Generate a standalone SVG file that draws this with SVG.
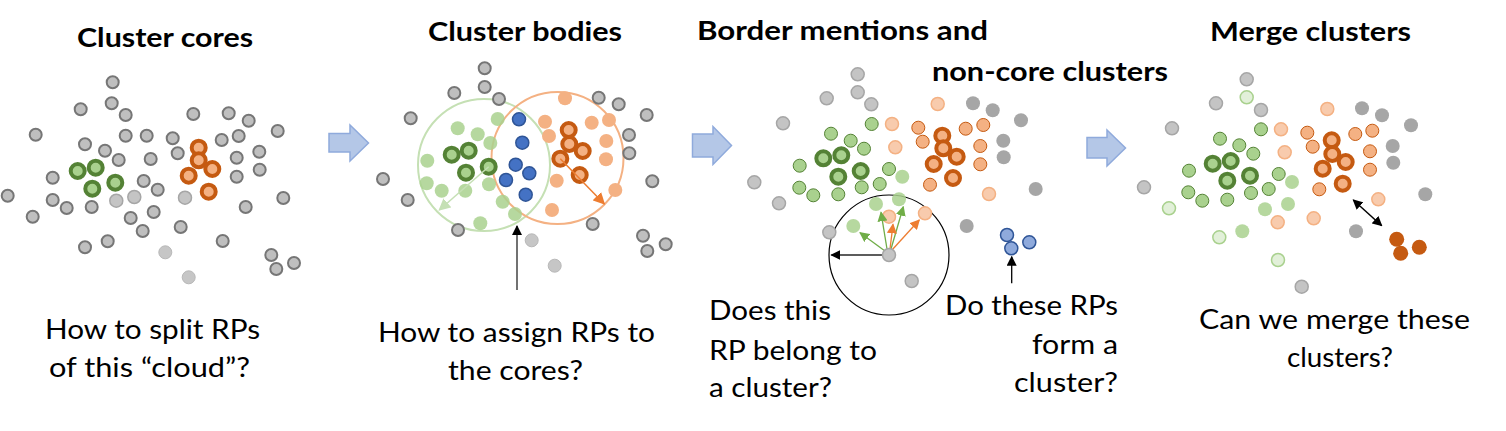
<svg xmlns="http://www.w3.org/2000/svg" width="1506" height="431" viewBox="0 0 1506 431">
<style>
text{font-family:Lato,"Liberation Sans",sans-serif;fill:#000}
.t{font-size:27px;font-weight:bold}
.q{font-size:27px}
.gy{fill:#bfbfbf;stroke:#767676;stroke-width:2}
.gyl{fill:#c4c4c4;stroke:#a6a6a6;stroke-width:1.5}
.gf{fill:#c6c6c6;stroke:#b8b8b8;stroke-width:1}
.gd{fill:#a6a6a6}
.cg{fill:#a9d18e;stroke:#548235;stroke-width:4}
.co{fill:#f4b183;stroke:#c55a11;stroke-width:4}
.lg{fill:#a9d18e;opacity:.85}
.lo{fill:#f4b183}
.bl{fill:#4472c4;stroke:#2f5597;stroke-width:1.5}
.og{fill:#a9d18e;stroke:#548235;stroke-width:1}
.oo{fill:#f4b183;stroke:#c55a11;stroke-width:1}
.po{fill:#f8cbad;stroke:#f4b183;stroke-width:1.5}
.pb{fill:#8faadc;stroke:#2f5597;stroke-width:1.5}
.pg{fill:#e2f0d9;stroke:#a9d18e;stroke-width:1.5}
.do{fill:#c55a11}
.blk{fill:#b4c7e7;stroke:#8faadc;stroke-width:1.5}
</style>
<defs>
<marker id="mk" viewBox="0 0 10 10" refX="9" refY="5" markerWidth="10" markerHeight="10" markerUnits="userSpaceOnUse" orient="auto-start-reverse"><path d="M0,0L10,5L0,10z" fill="#000"/></marker>
<marker id="mg" viewBox="0 0 10 10" refX="9" refY="5" markerWidth="10" markerHeight="10" markerUnits="userSpaceOnUse" orient="auto"><path d="M0,0L10,5L0,10z" fill="#70ad47"/></marker>
<marker id="mo" viewBox="0 0 10 10" refX="9" refY="5" markerWidth="10" markerHeight="10" markerUnits="userSpaceOnUse" orient="auto"><path d="M0,0L10,5L0,10z" fill="#ed7d31"/></marker>
<marker id="mlg" viewBox="0 0 10 10" refX="9" refY="5" markerWidth="12" markerHeight="12" markerUnits="userSpaceOnUse" orient="auto"><path d="M0,0L10,5L0,10z" fill="#c5e0b4"/></marker>
<marker id="mlo" viewBox="0 0 10 10" refX="9" refY="5" markerWidth="12" markerHeight="12" markerUnits="userSpaceOnUse" orient="auto"><path d="M0,0L10,5L0,10z" fill="#ed7d31"/></marker>
</defs>

<g id="panel1">
<text class="t" x="77" y="47" textLength="176" lengthAdjust="spacingAndGlyphs">Cluster cores</text>
<g>
<circle class="gy" r="6" cx="112.7" cy="82.3"/><circle class="gy" r="6" cx="111.7" cy="103.3"/><circle class="gy" r="6" cx="80.7" cy="109.3"/><circle class="gy" r="6" cx="125.7" cy="115"/><circle class="gy" r="6" cx="35.7" cy="134.7"/><circle class="gy" r="6" cx="125.7" cy="135.7"/><circle class="gy" r="6" cx="146.7" cy="135.7"/><circle class="gy" r="6" cx="172.7" cy="138.3"/><circle class="gy" r="6" cx="193.3" cy="114"/><circle class="gy" r="6" cx="228.7" cy="113.3"/><circle class="gy" r="6" cx="248.7" cy="120.7"/><circle class="gy" r="6" cx="277.7" cy="131"/><circle class="gy" r="6" cx="221.7" cy="140"/><circle class="gy" r="6" cx="238.7" cy="136"/><circle class="gy" r="6" cx="85" cy="144.3"/><circle class="gy" r="6" cx="105" cy="150.7"/><circle class="gy" r="6" cx="118.7" cy="160"/><circle class="gy" r="6" cx="150.7" cy="159"/><circle class="gy" r="6" cx="177.7" cy="153.3"/><circle class="gy" r="6" cx="259.3" cy="151.7"/><circle class="gy" r="6" cx="236.7" cy="157.7"/><circle class="gy" r="6" cx="259.7" cy="169.7"/><circle class="gy" r="6" cx="236.7" cy="176.7"/><circle class="gy" r="6" cx="52.7" cy="177.7"/><circle class="gy" r="6" cx="143.7" cy="181"/><circle class="gy" r="6" cx="157.7" cy="189.7"/><circle class="gyl" r="6.5" cx="134.3" cy="197"/><circle class="gyl" r="6.5" cx="116.3" cy="200.7"/><circle class="gy" r="6" cx="91.7" cy="207"/><circle class="gy" r="6" cx="66.7" cy="208"/><circle class="gy" r="6" cx="52.7" cy="200"/><circle class="gy" r="6" cx="7.7" cy="195.7"/><circle class="gy" r="6" cx="32.7" cy="216.7"/><circle class="gyl" r="6.5" cx="185" cy="197.7"/><circle class="gy" r="6" cx="245.7" cy="207"/><circle class="gy" r="6" cx="283.3" cy="198"/><circle class="gy" r="6" cx="130.7" cy="218"/><circle class="gy" r="6" cx="153.7" cy="212"/><circle class="gy" r="6" cx="142.7" cy="231"/><circle class="gy" r="6" cx="180.7" cy="227"/><circle class="gy" r="6" cx="107.7" cy="241.3"/><circle class="gy" r="6" cx="85" cy="247.3"/><circle class="gy" r="6" cx="222.7" cy="241"/><circle class="gy" r="6" cx="271.3" cy="255"/><circle class="gy" r="6" cx="294" cy="263"/><circle class="gy" r="6" cx="276.3" cy="269"/>
<circle class="gf" r="6.5" cx="165.3" cy="252.3"/><circle class="gf" r="6.5" cx="188.7" cy="277.3"/>
<circle class="cg" r="7" cx="77.7" cy="171"/><circle class="cg" r="7" cx="95.7" cy="167.7"/><circle class="cg" r="7" cx="92.3" cy="188.7"/><circle class="cg" r="7" cx="115.3" cy="182.7"/>
<circle class="co" r="7" cx="198.7" cy="147.7"/><circle class="co" r="7" cx="198.7" cy="160.3"/><circle class="co" r="7" cx="212.3" cy="169"/><circle class="co" r="7" cx="188.7" cy="175.7"/><circle class="co" r="7" cx="208.7" cy="191.7"/>
</g>
<text class="q" x="45" y="339" textLength="215" lengthAdjust="spacingAndGlyphs">How to split RPs</text>
<text class="q" x="49" y="377" textLength="201" lengthAdjust="spacingAndGlyphs">of this “cloud”?</text>
</g>

<g id="arrow1"><polygon class="blk" points="329,133.5 350,133.5 350,125 368.5,143 350,161 350,152 329,152"/></g>

<g id="panel2">
<text class="t" x="428" y="41" textLength="194" lengthAdjust="spacingAndGlyphs">Cluster bodies</text>
<circle cx="484" cy="165" r="66" fill="none" stroke="#c5e0b4" stroke-width="2"/>
<circle cx="557.5" cy="158" r="66" fill="none" stroke="#f4b183" stroke-width="2"/>
<g>
<circle class="gy" r="6" cx="484.7" cy="68.3"/><circle class="gy" r="6" cx="484.7" cy="87"/><circle class="gy" r="6" cx="454.3" cy="93"/><circle class="gy" r="6" cx="499" cy="99"/><circle class="gy" r="6" cx="598.7" cy="97.7"/><circle class="gy" r="6" cx="618.7" cy="104.3"/><circle class="gy" r="6" cx="646.7" cy="115"/><circle class="gy" r="6" cx="410.7" cy="118.3"/><circle class="gy" r="6" cx="629" cy="135"/><circle class="gy" r="6" cx="629.3" cy="153.3"/><circle class="gy" r="6" cx="383" cy="179"/><circle class="gy" r="6" cx="652.3" cy="181.3"/><circle class="gy" r="6" cx="407.7" cy="200"/><circle class="gy" r="6" cx="458" cy="230"/><circle class="gy" r="6" cx="592.7" cy="224"/><circle class="gy" r="6" cx="643" cy="235.7"/><circle class="gy" r="6" cx="665.7" cy="244.3"/><circle class="gy" r="6" cx="647.3" cy="251"/>
<circle class="gf" r="6.5" cx="531.7" cy="240.3"/><circle class="gf" r="6.5" cx="554.7" cy="265.7"/>
<circle class="lg" r="7" cx="457.7" cy="128.3"/><circle class="lg" r="7" cx="477.7" cy="134.3"/><circle class="lg" r="7" cx="497.7" cy="119"/><circle class="lg" r="7" cx="490.3" cy="143"/><circle class="lg" r="7" cx="427.3" cy="160.7"/><circle class="lg" r="7" cx="426.7" cy="183.3"/><circle class="lg" r="7" cx="441.7" cy="190.7"/><circle class="lg" r="7" cx="465.3" cy="190.7"/><circle class="lg" r="7" cx="489" cy="184.3"/><circle class="lg" r="7" cx="502.7" cy="201.7"/><circle class="lg" r="7" cx="515" cy="214"/><circle class="lg" r="7" cx="480.3" cy="223.3"/>
<circle class="cg" r="7" cx="451.7" cy="154.7"/><circle class="cg" r="7" cx="468.7" cy="150.7"/><circle class="cg" r="7" cx="466" cy="172.7"/><circle class="cg" r="7" cx="488.7" cy="166.7"/>
<circle class="bl" r="6.5" cx="519" cy="119.3"/><circle class="bl" r="6.5" cx="522.3" cy="142.7"/><circle class="bl" r="6.5" cx="515.7" cy="164.7"/><circle class="bl" r="6.5" cx="529.3" cy="173.3"/><circle class="bl" r="6.5" cx="506" cy="180"/><circle class="bl" r="6.5" cx="525.7" cy="194.7"/>
<circle class="lo" r="7" cx="565" cy="98.3"/><circle class="lo" r="7" cx="545" cy="121.7"/><circle class="lo" r="7" cx="549" cy="136"/><circle class="lo" r="7" cx="591.7" cy="122.7"/><circle class="lo" r="7" cx="609" cy="120"/><circle class="lo" r="7" cx="606.3" cy="141"/><circle class="lo" r="7" cx="606" cy="159.3"/><circle class="lo" r="7" cx="556.7" cy="180.7"/><circle class="lo" r="7" cx="615.3" cy="190"/><circle class="lo" r="7" cx="552" cy="210"/>
<circle class="co" r="7" cx="568.7" cy="130"/><circle class="co" r="7" cx="569.3" cy="144"/><circle class="co" r="7" cx="582.7" cy="151"/><circle class="co" r="7" cx="560.3" cy="158.7"/><circle class="co" r="7" cx="579.7" cy="175"/>
</g>
<text class="q" x="378" y="342" textLength="277" lengthAdjust="spacingAndGlyphs">How to assign RPs to</text>
<text class="q" x="448" y="380" textLength="135" lengthAdjust="spacingAndGlyphs">the cores?</text>
</g>

<g id="arrow2"><polygon class="blk" points="692.5,134 713,134 713,126.5 731.5,145.5 713,164.5 713,157 692.5,157"/></g>

<g id="panel3">
<text class="t" x="697" y="40" textLength="291" lengthAdjust="spacingAndGlyphs">Border mentions and</text>
<text class="t" x="932" y="81" textLength="236" lengthAdjust="spacingAndGlyphs">non-core clusters</text>
<circle cx="889" cy="255" r="60" fill="none" stroke="#000" stroke-width="1.2"/>
<g>
<circle class="gyl" r="6.5" cx="857.7" cy="74.3"/><circle class="gyl" r="6.5" cx="857.7" cy="92.3"/><circle class="gyl" r="6.5" cx="826.7" cy="98.3"/><circle class="gyl" r="6.5" cx="871.3" cy="104.3"/><circle class="gyl" r="6.5" cx="783" cy="123.3"/><circle class="gyl" r="6.5" cx="754.3" cy="182.3"/><circle class="gyl" r="6.5" cx="779" cy="203.3"/><circle class="gyl" r="6.5" cx="829.3" cy="232.3"/><circle class="gyl" r="6.5" cx="911.7" cy="281"/>
<circle class="gd" r="7" cx="973" cy="103.3"/><circle class="gd" r="7" cx="992.7" cy="110.3"/><circle class="gd" r="7" cx="1021" cy="120.3"/><circle class="gd" r="7" cx="1003.3" cy="140.7"/><circle class="gd" r="7" cx="1003.7" cy="157.3"/><circle class="gd" r="7" cx="1035.7" cy="189"/><circle class="gd" r="7" cx="966.7" cy="226"/>
<circle class="og" r="6.5" cx="831" cy="133.7"/><circle class="og" r="6.5" cx="850.7" cy="140.7"/><circle class="og" r="6.5" cx="871.7" cy="124"/><circle class="og" r="6.5" cx="864" cy="148.7"/><circle class="og" r="6.5" cx="799.7" cy="165.7"/><circle class="og" r="6.5" cx="799.3" cy="187.7"/><circle class="og" r="6.5" cx="813.3" cy="195.3"/><circle class="og" r="6.5" cx="838.3" cy="194.3"/><circle class="og" r="6.5" cx="861.7" cy="187.3"/><circle class="og" r="6.5" cx="879.7" cy="184"/><circle class="og" r="6.5" cx="889" cy="169"/>
<circle class="cg" r="7" cx="823.3" cy="158.3"/><circle class="cg" r="7" cx="841.3" cy="155.3"/><circle class="cg" r="7" cx="838.3" cy="176.7"/><circle class="cg" r="7" cx="860.7" cy="171"/>
<circle class="lg" r="7" cx="902.3" cy="176.7"/><circle class="lg" r="7" cx="876" cy="204"/><circle class="lg" r="7" cx="899" cy="199.3"/><circle class="lg" r="7" cx="853.3" cy="226"/>
<circle class="po" r="6.5" cx="937.7" cy="104"/><circle class="po" r="6.5" cx="892" cy="124"/><circle class="po" r="6.5" cx="895.3" cy="147.3"/><circle class="po" r="6.5" cx="989" cy="194"/><circle class="po" r="6.5" cx="889" cy="216.7"/><circle class="po" r="6.5" cx="925" cy="213.3"/>
<circle class="oo" r="6.5" cx="918.3" cy="127.7"/><circle class="oo" r="6.5" cx="922.7" cy="141.7"/><circle class="oo" r="6.5" cx="965.7" cy="128.7"/><circle class="oo" r="6.5" cx="983.3" cy="125"/><circle class="oo" r="6.5" cx="980.3" cy="146"/><circle class="oo" r="6.5" cx="980.3" cy="164.3"/><circle class="oo" r="6.5" cx="930" cy="184.7"/>
<circle class="co" r="7" cx="942.3" cy="135.7"/><circle class="co" r="7" cx="943.3" cy="148.3"/><circle class="co" r="7" cx="956.7" cy="156.7"/><circle class="co" r="7" cx="933.7" cy="164"/><circle class="co" r="7" cx="953" cy="178"/>
<circle class="pb" r="6.5" cx="1007" cy="235"/><circle class="pb" r="6.5" cx="1011.3" cy="248.3"/><circle class="pb" r="6.5" cx="1029.3" cy="242.3"/>
</g>
<text class="q" x="709" y="320" textLength="122" lengthAdjust="spacingAndGlyphs">Does this</text>
<text class="q" x="709" y="360" textLength="168" lengthAdjust="spacingAndGlyphs">RP belong to</text>
<text class="q" x="709" y="397" textLength="123" lengthAdjust="spacingAndGlyphs">a cluster?</text>
<text class="q" x="945" y="315" textLength="173" lengthAdjust="spacingAndGlyphs">Do these RPs</text>
<text class="q" x="1032" y="354" textLength="86" lengthAdjust="spacingAndGlyphs">form a</text>
<text class="q" x="1014" y="392" textLength="104" lengthAdjust="spacingAndGlyphs">cluster?</text>
</g>

<g id="arrow3"><polygon class="blk" points="1087,137.5 1107,137.5 1107,130 1125.5,148 1107,166 1107,158 1087,158"/></g>

<g id="panel4">
<text class="t" x="1210" y="41" textLength="201" lengthAdjust="spacingAndGlyphs">Merge clusters</text>
<g>
<circle class="gyl" r="6.5" cx="1246.7" cy="79.3"/><circle class="gyl" r="6.5" cx="1216" cy="103.3"/><circle class="gyl" r="6.5" cx="1261" cy="110"/><circle class="gyl" r="6.5" cx="1172" cy="128.3"/><circle class="gyl" r="6.5" cx="1144" cy="187.3"/><circle class="gyl" r="6.5" cx="1301.7" cy="286.7"/>
<circle class="gd" r="7" cx="1362" cy="108.3"/><circle class="gd" r="7" cx="1382" cy="115.3"/><circle class="gd" r="7" cx="1411" cy="125.3"/><circle class="gd" r="7" cx="1392.7" cy="146"/><circle class="gd" r="7" cx="1393.3" cy="162.7"/><circle class="gd" r="7" cx="1425.3" cy="194.3"/><circle class="gd" r="7" cx="1356" cy="231.3"/>
<circle class="pg" r="6.5" cx="1246.7" cy="97.3"/><circle class="pg" r="6.5" cx="1169" cy="208.3"/><circle class="pg" r="6.5" cx="1219.3" cy="237.3"/><circle class="pg" r="6.5" cx="1278" cy="260"/>
<circle class="og" r="6.5" cx="1261" cy="129.3"/><circle class="og" r="6.5" cx="1220" cy="138.7"/><circle class="og" r="6.5" cx="1239.3" cy="145.3"/><circle class="og" r="6.5" cx="1253.3" cy="153.7"/><circle class="og" r="6.5" cx="1189" cy="170.7"/><circle class="og" r="6.5" cx="1188.3" cy="192.3"/><circle class="og" r="6.5" cx="1202.3" cy="200.7"/><circle class="og" r="6.5" cx="1227.3" cy="199.7"/><circle class="og" r="6.5" cx="1251" cy="193"/><circle class="og" r="6.5" cx="1268.7" cy="189"/><circle class="og" r="6.5" cx="1278.7" cy="174"/>
<circle class="cg" r="7" cx="1212.7" cy="163.7"/><circle class="cg" r="7" cx="1230.7" cy="161"/><circle class="cg" r="7" cx="1227.3" cy="180.7"/><circle class="cg" r="7" cx="1250" cy="175.7"/>
<circle class="lg" r="7" cx="1292" cy="182"/><circle class="lg" r="7" cx="1265" cy="209.3"/><circle class="lg" r="7" cx="1288" cy="204"/><circle class="lg" r="7" cx="1242.3" cy="231.3"/>
<circle class="po" r="6.5" cx="1327.3" cy="109"/><circle class="po" r="6.5" cx="1281" cy="129.3"/><circle class="po" r="6.5" cx="1284.7" cy="152.3"/><circle class="po" r="6.5" cx="1378.3" cy="199.3"/><circle class="po" r="6.5" cx="1277.7" cy="222.3"/><circle class="po" r="6.5" cx="1313.7" cy="218.3"/>
<circle class="oo" r="6.5" cx="1307.3" cy="132.7"/><circle class="oo" r="6.5" cx="1312.7" cy="146.7"/><circle class="oo" r="6.5" cx="1355.3" cy="134"/><circle class="oo" r="6.5" cx="1372.3" cy="130.7"/><circle class="oo" r="6.5" cx="1370" cy="151.3"/><circle class="oo" r="6.5" cx="1370" cy="169.7"/><circle class="oo" r="6.5" cx="1319.3" cy="189.3"/>
<circle class="co" r="7" cx="1331.7" cy="140.3"/><circle class="co" r="7" cx="1332.3" cy="154"/><circle class="co" r="7" cx="1345.7" cy="162"/><circle class="co" r="7" cx="1322.7" cy="168.7"/><circle class="co" r="7" cx="1342.7" cy="183.7"/>
<circle class="do" r="7.5" cx="1396.7" cy="239.3"/><circle class="do" r="7.5" cx="1400.7" cy="253.3"/><circle class="do" r="7.5" cx="1419.3" cy="247.3"/>
</g>
<text class="q" x="1199" y="329" textLength="271" lengthAdjust="spacingAndGlyphs">Can we merge these</text>
<text class="q" x="1287" y="367" textLength="106" lengthAdjust="spacingAndGlyphs">clusters?</text>
</g>

<g id="connectors" fill="none">
<line x1="488.7" y1="166.7" x2="439.3" y2="210" stroke="#c5e0b4" stroke-width="1.5" marker-end="url(#mlg)"/>
<line x1="560.3" y1="158.7" x2="604.3" y2="204" stroke="#ed7d31" stroke-width="1.5" marker-end="url(#mlo)"/>
<line x1="517" y1="290" x2="517" y2="226" stroke="#262626" stroke-width="1.3" marker-end="url(#mk)"/>
<line x1="885" y1="251" x2="860" y2="232.7" stroke="#70ad47" stroke-width="1.3" marker-end="url(#mg)"/>
<line x1="887" y1="249" x2="881" y2="212.3" stroke="#70ad47" stroke-width="1.3" marker-end="url(#mg)"/>
<line x1="891" y1="249" x2="903.3" y2="206.7" stroke="#70ad47" stroke-width="1.3" marker-end="url(#mg)"/>
<line x1="890" y1="249" x2="893" y2="224.3" stroke="#ed7d31" stroke-width="1.3" marker-end="url(#mo)"/>
<line x1="892" y1="250" x2="919.3" y2="220" stroke="#ed7d31" stroke-width="1.3" marker-end="url(#mo)"/>
<line x1="889" y1="255" x2="831.3" y2="255" stroke="#262626" stroke-width="1.5" marker-end="url(#mk)"/>
<line x1="1011.7" y1="283.3" x2="1011.7" y2="256.7" stroke="#000" stroke-width="1.3" marker-end="url(#mk)"/>
<line x1="1353.3" y1="200" x2="1381.7" y2="225.7" stroke="#000" stroke-width="1.5" marker-start="url(#mk)" marker-end="url(#mk)"/>
</g>
<g id="center-dot"><circle class="gyl" r="6.5" cx="889" cy="255"/></g>
</svg>
